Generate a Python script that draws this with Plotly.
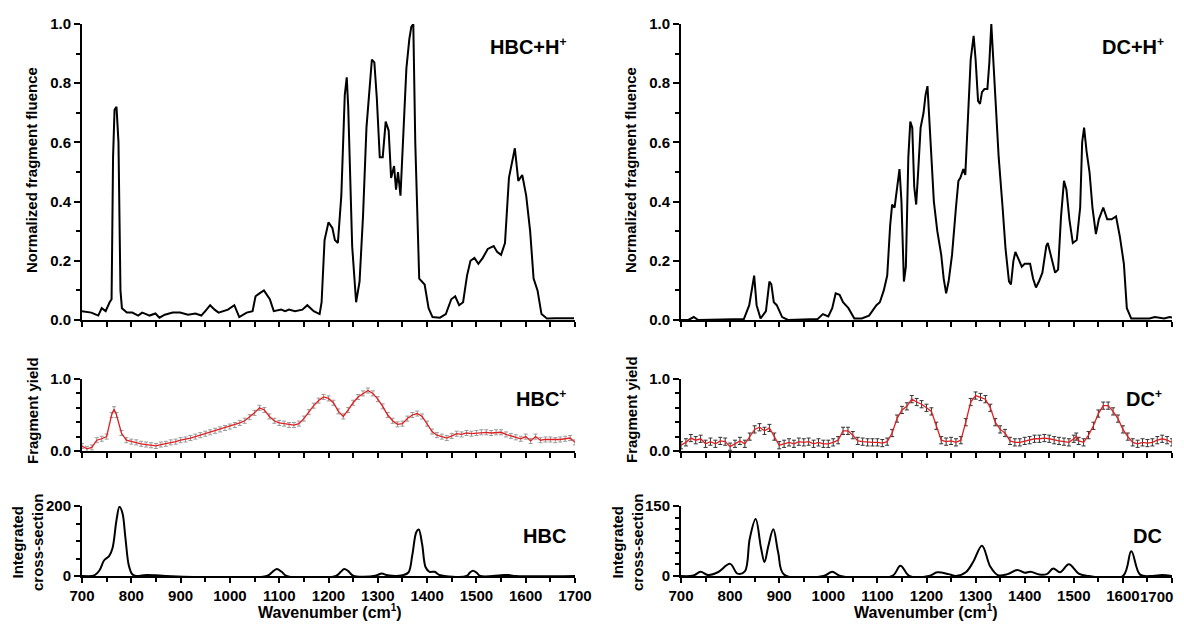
import plotly.graph_objects as go

# ---------------- Data ----------------
# HBC+H+ (top-left), normalized fragment fluence
hbch_x = [700, 710, 719, 726, 733, 740, 748, 756, 760, 763, 766, 770, 774, 778, 781, 791, 802, 814, 822, 830, 837, 849,
          857, 868, 884, 899, 915, 930, 942, 950, 960, 969, 977, 996, 1009, 1019, 1034, 1046, 1052, 1060, 1069, 1081,
          1089, 1104, 1112, 1120, 1132, 1147, 1157, 1170, 1182, 1186, 1192, 1200, 1208, 1213, 1219, 1226, 1233, 1237,
          1240, 1248, 1256, 1263, 1270, 1277, 1283, 1288, 1293, 1298, 1304, 1310, 1316, 1322, 1327, 1333, 1337, 1341,
          1346, 1353, 1358, 1364, 1368, 1372, 1376, 1384, 1395, 1403, 1411, 1426, 1438, 1449, 1457, 1465, 1473, 1481,
          1488, 1496, 1504, 1513, 1523, 1535, 1542, 1550, 1558, 1566, 1574, 1578, 1585, 1593, 1601, 1609, 1616, 1624,
          1632, 1643, 1660, 1680, 1698]
hbch_y = [0.03, 0.028, 0.025, 0.02, 0.015, 0.04, 0.03, 0.06, 0.07, 0.55, 0.71, 0.72, 0.6, 0.1, 0.04, 0.025, 0.025,
          0.015, 0.025, 0.02, 0.015, 0.022, 0.008, 0.018, 0.025, 0.025, 0.018, 0.022, 0.015, 0.03, 0.05, 0.035, 0.025,
          0.035, 0.05, 0.01, 0.025, 0.03, 0.08, 0.09, 0.1, 0.07, 0.03, 0.035, 0.03, 0.035, 0.03, 0.035, 0.05, 0.03,
          0.02, 0.06, 0.27, 0.33, 0.31, 0.27, 0.26, 0.42, 0.76, 0.82, 0.72, 0.25, 0.06, 0.13, 0.35, 0.65, 0.78, 0.88,
          0.87, 0.75, 0.55, 0.55, 0.67, 0.64, 0.48, 0.52, 0.44, 0.5, 0.42, 0.65, 0.85, 0.95, 0.99, 1.0, 0.6, 0.14,
          0.12, 0.04, 0.01, 0.008, 0.02, 0.07, 0.08, 0.05, 0.06, 0.15, 0.2, 0.21, 0.19, 0.21, 0.24, 0.25, 0.23, 0.22,
          0.26, 0.48, 0.54, 0.58, 0.47, 0.49, 0.42, 0.3, 0.14, 0.1, 0.02, 0.005, 0.006, 0.006, 0.006]

# DC+H+ (top-right)
dch_x = [700, 715, 726, 735, 783, 828, 839, 849, 854, 862, 873, 880, 884, 889, 895, 906, 918, 978, 989, 1000, 1008,
         1015, 1023, 1030, 1041, 1053, 1068, 1083, 1098, 1105, 1113, 1120, 1126, 1130, 1135, 1141, 1145, 1149, 1154,
         1158, 1163, 1167, 1171, 1175, 1179, 1183, 1188, 1194, 1198, 1202, 1207, 1215, 1222, 1230, 1235, 1240, 1245,
         1252, 1260, 1265, 1269, 1275, 1279, 1285, 1290, 1296, 1300, 1305, 1309, 1313, 1318, 1324, 1328, 1332, 1335,
         1341, 1347, 1355, 1361, 1368, 1372, 1377, 1381, 1389, 1394, 1400, 1411, 1417, 1423, 1429, 1436, 1444, 1447,
         1453, 1462, 1468, 1474, 1480, 1485, 1491, 1498, 1506, 1513, 1517, 1521, 1526, 1532, 1538, 1545, 1551, 1560,
         1568, 1577, 1586, 1594, 1602, 1608, 1617, 1654, 1665, 1684, 1695, 1700]
dch_y = [0.0, 0.0, 0.01, 0.0, 0.002, 0.003, 0.05, 0.15, 0.05, 0.005, 0.03, 0.13, 0.12, 0.06, 0.05, 0.01, 0.0, 0.003,
         0.02, 0.012, 0.04, 0.09, 0.085, 0.06, 0.04, 0.005, 0.005, 0.015, 0.05, 0.06, 0.1, 0.15, 0.32, 0.39, 0.38,
         0.45, 0.51, 0.4, 0.13, 0.18, 0.55, 0.67, 0.65, 0.45, 0.39, 0.5, 0.65, 0.7, 0.76, 0.79, 0.63, 0.4, 0.3, 0.22,
         0.14, 0.09, 0.13, 0.22, 0.38, 0.47, 0.48, 0.51, 0.49, 0.7, 0.88, 0.96, 0.88, 0.74, 0.73, 0.77, 0.78, 0.78,
         0.87, 1.0, 0.9, 0.74, 0.55, 0.38, 0.24, 0.13, 0.12, 0.2, 0.23, 0.2, 0.18, 0.19, 0.19, 0.14, 0.11, 0.13, 0.16,
         0.25, 0.26, 0.22, 0.16, 0.17, 0.35, 0.47, 0.44, 0.34, 0.26, 0.27, 0.38, 0.6, 0.65, 0.57, 0.5, 0.38, 0.29,
         0.34, 0.38, 0.34, 0.34, 0.35, 0.28, 0.19, 0.04, 0.005, 0.005, 0.01, 0.005, 0.01, 0.008]

# HBC+ fragment yield (middle-left)
hbcp_x = [700, 710, 720, 730, 740, 750, 760, 765, 770, 780, 790, 800, 810, 820, 830, 840, 850, 860, 870, 880, 890,
          900, 910, 920, 930, 940, 950, 960, 970, 980, 990, 1000, 1010, 1020, 1030, 1040, 1050, 1060, 1070, 1080,
          1090, 1100, 1110, 1120, 1130, 1140, 1150, 1160, 1170, 1180, 1190, 1200, 1210, 1220, 1230, 1240, 1250, 1260,
          1270, 1280, 1290, 1300, 1310, 1320, 1330, 1340, 1350, 1360, 1370, 1380, 1390, 1400, 1410, 1420, 1430, 1440,
          1450, 1460, 1470, 1480, 1490, 1500, 1510, 1520, 1530, 1540, 1550, 1560, 1570, 1580, 1590, 1600, 1610, 1620,
          1630, 1640, 1650, 1660, 1670, 1680, 1690, 1700]
hbcp_y = [0.07, 0.03, 0.05, 0.15, 0.17, 0.2, 0.5, 0.58, 0.5, 0.25, 0.15, 0.13, 0.12, 0.1, 0.09, 0.08, 0.07, 0.09,
          0.1, 0.12, 0.13, 0.15, 0.16, 0.18, 0.2, 0.22, 0.24, 0.26, 0.28, 0.3, 0.32, 0.34, 0.36, 0.39, 0.42, 0.47,
          0.53, 0.6, 0.57, 0.48, 0.42, 0.39, 0.38, 0.36, 0.36, 0.38, 0.45, 0.54, 0.63, 0.7, 0.75, 0.73, 0.67, 0.55,
          0.48, 0.57, 0.67, 0.75, 0.8, 0.84, 0.8, 0.72, 0.62, 0.5, 0.42, 0.37, 0.38, 0.45, 0.5, 0.52, 0.48, 0.38,
          0.27, 0.22, 0.2, 0.18, 0.21, 0.24, 0.23, 0.25, 0.24, 0.25, 0.26, 0.26, 0.25, 0.26, 0.26, 0.23, 0.21, 0.19,
          0.17, 0.2, 0.14, 0.2, 0.15, 0.16, 0.16, 0.15, 0.16, 0.17, 0.18, 0.12]
hbcp_err = [0.035] * len(hbcp_x)

# DC+ fragment yield (middle-right)
dcp_x = [700, 710, 720, 730, 740, 750, 760, 770, 780, 790, 800, 810, 820, 830, 840, 850, 860, 870, 880, 890, 900,
         910, 920, 930, 940, 950, 960, 970, 980, 990, 1000, 1010, 1020, 1030, 1040, 1050, 1060, 1070, 1080, 1090,
         1100, 1110, 1120, 1130, 1140, 1150, 1160, 1170, 1180, 1190, 1200, 1210, 1220, 1230, 1240, 1250, 1260, 1270,
         1280, 1290, 1300, 1310, 1320, 1330, 1340, 1350, 1360, 1370, 1380, 1390, 1400, 1410, 1420, 1430, 1440, 1450,
         1460, 1470, 1480, 1490, 1500, 1505, 1510, 1520, 1530, 1540, 1550, 1560, 1570, 1580, 1590, 1600, 1610, 1620,
         1630, 1640, 1650, 1660, 1670, 1680, 1690, 1700]
dcp_y = [0.08, 0.12, 0.18, 0.15, 0.17, 0.1, 0.13, 0.1, 0.14, 0.13, 0.06, 0.1, 0.14, 0.1, 0.2, 0.3, 0.33, 0.28, 0.32,
         0.2, 0.08, 0.1, 0.12, 0.1, 0.13, 0.12, 0.13, 0.1, 0.12, 0.1, 0.1, 0.12, 0.15, 0.28, 0.28, 0.22, 0.14, 0.13,
         0.12, 0.12, 0.12, 0.11, 0.13, 0.25, 0.45, 0.57, 0.62, 0.72, 0.68, 0.65, 0.6, 0.55, 0.35, 0.15, 0.13, 0.14,
         0.12, 0.15, 0.4, 0.68, 0.77, 0.75, 0.72, 0.6, 0.4, 0.3, 0.25, 0.14, 0.12, 0.12, 0.14, 0.15, 0.17, 0.17,
         0.18, 0.17, 0.15, 0.14, 0.13, 0.12, 0.17, 0.2, 0.14, 0.12, 0.22, 0.35, 0.52, 0.63, 0.63, 0.55, 0.45, 0.3,
         0.2, 0.12, 0.1, 0.12, 0.11, 0.12, 0.15, 0.17, 0.15, 0.12]
dcp_err = [0.05] * len(dcp_x)

# HBC computed integrated cross-section (bottom-left)
hbc_x = [700, 720, 725, 735, 745, 755, 762, 770, 776, 782, 788, 795, 802, 810, 830, 850, 870, 1075, 1085, 1095,
         1105, 1115, 1215, 1225, 1232, 1240, 1250, 1295, 1308, 1320, 1350, 1362, 1370, 1378, 1383, 1390, 1397, 1405,
         1415, 1425, 1435, 1480, 1487, 1493, 1500, 1508, 1550, 1565, 1580, 1700]
hbc_y = [0, 0, 2, 15, 45, 57, 80, 160, 198, 180, 110, 30, 5, 0, 3, 2, 0, 0, 10, 20, 12, 0, 0, 12, 20, 14, 1, 1, 7,
         2, 2, 10, 60, 125, 133, 90, 25, 12, 12, 3, 0, 0, 10, 15, 10, 0, 2, 3, 0, 0]

# DC computed integrated cross-section (bottom-right)
dc_x = [700, 725, 740, 755, 775, 800, 815, 830, 840, 852, 863, 870, 878, 888, 898, 910, 990, 1008, 1025, 1130,
        1147, 1165, 1205, 1222, 1245, 1260, 1280, 1295, 1313, 1330, 1345, 1365, 1385, 1400, 1412, 1430, 1445, 1458,
        1472, 1490, 1510, 1530, 1600, 1617, 1635, 1660, 1680, 1700]
dc_y = [0, 1, 9, 2, 8, 26, 5, 10, 80, 122, 60, 30, 65, 100, 50, 3, 0, 9, 0, 0, 22, 0, 0, 8, 4, 0, 8, 30, 65, 20,
        2, 4, 13, 7, 9, 3, 4, 16, 8, 25, 5, 0, 0, 53, 3, 0, 2, 0]

# x tick labels for the bottom axes
xtick_vals = [700, 800, 900, 1000, 1100, 1200, 1300, 1400, 1500, 1600, 1700]
xtick_text = ["700", "800", "900", "1000", "1100", "1200", "1300", "1400", "1500", "1600", "1700"]

# ---------------- Figure ----------------
OFF = 8  # page body margin in the browser
W, H = 1184 - OFF, 625 - OFF
FONT = "Liberation Sans"
fig = go.Figure()


def px_x(p):
    return (p - OFF) / W


def px_y(p):
    return 1 - (p - OFF) / H


LX = [px_x(82), px_x(575)]
RX = [px_x(681), px_x(1172)]
TOPY = [px_y(320), px_y(24)]
MIDY = [px_y(451), px_y(379)]
BOTY = [px_y(576), px_y(506)]

tickfont = dict(family=FONT, size=15, color="black", weight="bold")

fig.add_trace(go.Scatter(x=hbch_x, y=hbch_y, mode="lines", line=dict(color="black", width=2),
                         xaxis="x", yaxis="y", showlegend=False))
fig.add_trace(go.Scatter(x=dch_x, y=dch_y, mode="lines", line=dict(color="black", width=2),
                         xaxis="x2", yaxis="y2", showlegend=False))
fig.add_trace(go.Scatter(x=hbcp_x, y=hbcp_y, mode="lines", line=dict(color="#e02020", width=1.3),
                         error_y=dict(type="data", array=hbcp_err, color="#9a9a9a", thickness=1, width=2),
                         xaxis="x3", yaxis="y3", showlegend=False))
fig.add_trace(go.Scatter(x=dcp_x, y=dcp_y, mode="lines", line=dict(color="#e02020", width=1.3),
                         error_y=dict(type="data", array=dcp_err, color="#333333", thickness=1, width=2),
                         xaxis="x4", yaxis="y4", showlegend=False))
fig.add_trace(go.Scatter(x=hbc_x, y=hbc_y, mode="lines", line=dict(color="black", width=2, shape="spline",
                                                                   smoothing=1.0),
                         xaxis="x5", yaxis="y5", showlegend=False))
fig.add_trace(go.Scatter(x=dc_x, y=dc_y, mode="lines", line=dict(color="black", width=2, shape="spline",
                                                                 smoothing=1.0),
                         xaxis="x6", yaxis="y6", showlegend=False))


def xaxis(domain, anchor, labels, last_label=True):
    d = dict(domain=domain, anchor=anchor, range=[700, 1700], showline=True, linecolor="black", linewidth=2,
             ticks="outside", ticklen=5, tickwidth=1.5, tickcolor="black", showgrid=False, zeroline=False,
             tickfont=tickfont, fixedrange=True, automargin=False)
    if labels:
        txt = list(xtick_text) if last_label else list(xtick_text[:-1]) + [""]
        d.update(tickmode="array", tickvals=xtick_vals, ticktext=txt, showticklabels=True,
                 minor=dict(dtick=50, tick0=700, ticks="outside", ticklen=4, tickcolor="black", tickwidth=1.5))
    else:
        d.update(tickmode="linear", tick0=700, dtick=50, showticklabels=False)
    return d


def yaxis(domain, anchor, rng, tickvals, ticktext, minor):
    return dict(domain=domain, anchor=anchor, range=rng, showline=True, linecolor="black", linewidth=2,
                ticks="outside", ticklen=6, tickwidth=1.5, tickcolor="black", showgrid=False, zeroline=False,
                tickmode="array", tickvals=tickvals, ticktext=ticktext, tickfont=tickfont,
                minor=dict(dtick=minor, tick0=0, ticks="outside", ticklen=4, tickcolor="black", tickwidth=1.5),
                fixedrange=True, automargin=False)


top_vals = [0, 0.2, 0.4, 0.6, 0.8, 1.0]
top_text = ["0.0", "0.2", "0.4", "0.6", "0.8", "1.0"]

fig.update_layout(
    template="none",
    width=W, height=H, margin=dict(l=0, r=0, t=0, b=0, pad=0),
    paper_bgcolor="white", plot_bgcolor="white",
    xaxis=xaxis(LX, "y", False), yaxis=yaxis(TOPY, "x", [0, 1.0], top_vals, top_text, 0.1),
    xaxis2=xaxis(RX, "y2", False), yaxis2=yaxis(TOPY, "x2", [0, 1.0], top_vals, top_text, 0.1),
    xaxis3=xaxis(LX, "y3", False), yaxis3=yaxis(MIDY, "x3", [0, 1.0], [0, 1.0], ["0.0", "1.0"], 0.2),
    xaxis4=xaxis(RX, "y4", False), yaxis4=yaxis(MIDY, "x4", [0, 1.0], [0, 1.0], ["0.0", "1.0"], 0.2),
    xaxis5=xaxis(LX, "y5", True), yaxis5=yaxis(BOTY, "x5", [0, 200], [0, 200], ["0", "200"], 50),
    xaxis6=xaxis(RX, "y6", True, last_label=False),
    yaxis6=yaxis(BOTY, "x6", [0, 150], [0, 150], ["0", "150"], 25),
)

lab = dict(family=FONT, size=20, color="black", weight="bold")
ttl = dict(family=FONT, size=15, color="black", weight="bold")
ann = []


def add(text, x, y, font, xanchor="center", yanchor="middle", angle=0):
    ann.append(dict(text=text, x=px_x(x), y=px_y(y), xref="paper", yref="paper", showarrow=False, font=font,
                    xanchor=xanchor, yanchor=yanchor, textangle=angle))


sup = "<sup><span style='font-size:12px'>+</span></sup>"
# panel labels
add("HBC+H" + sup, 568, 46, lab, xanchor="right")
add("DC+H" + sup, 1166, 46, lab, xanchor="right")
add("HBC" + sup, 568, 398, lab, xanchor="right")
add("DC" + sup, 1164, 398, lab, xanchor="right")
add("HBC", 568, 536, lab, xanchor="right")
add("DC", 1164, 536, lab, xanchor="right")

# y titles
add("Normalized fragment fluence", 32, 170, ttl, angle=-90)
add("Normalized fragment fluence", 631, 170, ttl, angle=-90)
add("Fragment yield", 32, 410, ttl, angle=-90)
add("Fragment yield", 631, 410, ttl, angle=-90)
add("Integrated<br>cross-section", 27, 542, ttl, angle=-90)
add("Integrated<br>cross-section", 627, 542, ttl, angle=-90)

# last tick label of the right bottom axis, kept inside the page
add(xtick_text[-1], 1175, 596, tickfont, xanchor="right")

# x titles
xt = dict(family=FONT, size=16, color="black", weight="bold")
add("Wavenumber (cm<sup><span style='font-size:10px'>1</span></sup>)", 330, 611, xt)
add("Wavenumber (cm<sup><span style='font-size:10px'>1</span></sup>)", 926, 611, xt)

fig.update_layout(annotations=ann)
fig.write_html("out.html")
